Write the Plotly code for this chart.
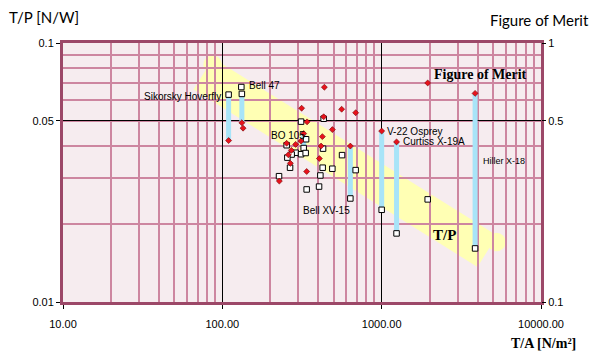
import numpy as np
import plotly.graph_objects as go

# ---------------- data ----------------
# aircraft joined by a bar (same disk loading, T/P and Figure of Merit)
names = ["Sikorsky Hoverfly", "Bell 47", "BO 105", "Bell XV-15",
         "V-22 Osprey", "Curtiss X-19A", "Hiller X-18"]
named_ta = [109.5, 132.6, 324, 636, 1000, 1240, 3858]          # T/A [N/m²]
named_tp = [0.0632, 0.0636, 0.0393, 0.0251, 0.0227, 0.0184, 0.0161]  # T/P [N/W]
named_fom = [0.420, 0.492, 0.447, 0.400, 0.457, 0.415, 0.639]  # Figure of Merit

# other T/P points (squares)
tp_ta = [131.6, 311.9, 335.4, 253.3, 428.7, 288.5, 272.3, 311.9, 333.4, 255.9,
         266.1, 426.3, 490.3, 226.9, 412.3, 338.3, 404.6, 564.1, 432.5, 686.8, 1945]
tp_val = [0.0676, 0.0497, 0.0425, 0.0403, 0.0391, 0.0377, 0.0371, 0.0372, 0.0376, 0.0361,
          0.0330, 0.0330, 0.0327, 0.0306, 0.0308, 0.0272, 0.0279, 0.0369, 0.0510, 0.0323, 0.0249]

# other Figure of Merit points (diamonds)
fom_ta = [134.9, 340.3, 424.4, 490.3, 253.3, 288.5, 311.9, 271.2, 416.5, 259.6,
          406.4, 267.3, 338.3, 227.9, 436.9, 314.6, 560.9, 686.8, 432.5, 1945]
fom_val = [0.469, 0.496, 0.435, 0.463, 0.410, 0.406, 0.418, 0.385, 0.400, 0.370,
           0.358, 0.343, 0.319, 0.293, 0.675, 0.560, 0.555, 0.538, 0.519, 0.701]

x_tickvals = [10, 100, 1000, 10000]
x_ticktext = ["10.00", "100.00", "1000.00", "10000.00"]
y_tickvals = [0.01, 0.05, 0.1]
y_ticktext = ["0.01", "0.05", "0.1"]
y2_tickvals = [0.1, 0.5, 1]
y2_ticktext = ["0.1", "0.5", "1"]

# trend band (T/A, T/P) end points
band_start = (76.0, 0.0760)
band_end = (4600, 0.0157)

# ---------------- styles ----------------
BG = "#F6ECEF"
GRID = "#CD86A0"
FRAME = "#9C4868"
BAR = "#A8E4F8"
BAND = "#FFFFB4"
RED = "#E8121C"

fig = go.Figure()

# bars linking T/P and Figure of Merit (FoM scale = 10 x T/P scale)
bx, by = [], []
for ta, tp, fm in zip(named_ta, named_tp, named_fom):
    bx += [ta, ta, None]
    by += [tp, fm / 10.0, None]
fig.add_trace(go.Scatter(x=bx, y=by, mode="lines", line=dict(color=BAR, width=5),
                         hoverinfo="skip", showlegend=False))

fig.add_trace(go.Scatter(x=named_ta + tp_ta, y=named_tp + tp_val, mode="markers",
                         marker=dict(symbol="square", size=5.5, color="white",
                                     line=dict(color="black", width=1)),
                         showlegend=False))

fig.add_trace(go.Scatter(x=named_ta + fom_ta, y=named_fom + fom_val, mode="markers",
                         yaxis="y2",
                         marker=dict(symbol="diamond", size=4.6, color=RED,
                                     line=dict(color="#700000", width=0.6)),
                         showlegend=False))

# band
fig.add_shape(type="line", xref="x", yref="y", x0=band_start[0], y0=band_start[1],
              x1=band_end[0], y1=band_end[1], line=dict(color=BAND, width=37), layer="below")
for (bxp, byp) in (band_start, band_end):
    fig.add_shape(type="circle", xref="x", yref="y", xsizemode="pixel", ysizemode="pixel",
                  xanchor=bxp, yanchor=byp, x0=-18.5, x1=18.5, y0=-18.5, y1=18.5,
                  fillcolor=BAND, line=dict(width=0), layer="below")

minor_x = [m * 10 ** d for d in (1, 2, 3) for m in range(2, 10)]
minor_y = [m * 0.01 for m in range(2, 10)]

# the page body has an 8 px margin: the figure is sized/offset to compensate
fig.update_layout(
    width=595, height=349,
    margin=dict(l=55, r=62, t=35, b=55),
    paper_bgcolor="white", plot_bgcolor=BG,
    font=dict(family="Liberation Sans, Arial, sans-serif", size=11, color="black"),
    showlegend=False,
    xaxis=dict(type="log", range=[1, 4], tickvals=x_tickvals, ticktext=x_ticktext,
               showgrid=True, gridcolor="black", gridwidth=1,
               minor=dict(tickmode="array", tickvals=minor_x, showgrid=True,
                          gridcolor=GRID, gridwidth=1.5, ticks=""),
               showline=True, linecolor=FRAME, linewidth=3, mirror=True,
               ticks="outside", ticklen=4, tickcolor="black", ticklabelstandoff=6,
               zeroline=False),
    yaxis=dict(type="log", range=[-2, -1], tickvals=y_tickvals, ticktext=y_ticktext,
               showgrid=True, gridcolor="black", gridwidth=1,
               minor=dict(tickmode="array", tickvals=minor_y, showgrid=True,
                          gridcolor=GRID, gridwidth=1.5, ticks=""),
               showline=True, linecolor=FRAME, linewidth=3, mirror=True,
               ticks="outside", ticklen=4, tickcolor="black", zeroline=False),
    yaxis2=dict(type="log", range=[-1, 0], overlaying="y", side="right",
                tickvals=y2_tickvals, ticktext=y2_ticktext, showgrid=False,
                ticks="outside", ticklen=4, tickcolor="black", zeroline=False,
                showline=False),
)

lab_font = dict(family="Liberation Sans, Arial, sans-serif", size=10, color="black")
label_cfg = {
    "Sikorsky Hoverfly": ("tp", "right", -6, -2),
    "Bell 47": ("tp", "left", 5, 8),
    "BO 105": ("fom", "right", 3, -1.5),
    "Bell XV-15": ("tp", "right", 2, -12),
    "V-22 Osprey": ("fom", "left", 3, 0),
    "Curtiss X-19A": ("fom", "left", 4, 0),
    "Hiller X-18": ("mid", "left", 6, 10),
}
for n, ta, tp, fm in zip(names, named_ta, named_tp, named_fom):
    ref, xa, xs, ys = label_cfg[n]
    if ref == "fom":
        yv, yr = np.log10(fm), "y2"
    elif ref == "tp":
        yv, yr = np.log10(tp), "y"
    else:
        yv, yr = np.log10(np.sqrt(tp * fm / 10.0)), "y"
    f = dict(lab_font)
    if n == "Hiller X-18":
        f["size"] = 9
    fig.add_annotation(x=np.log10(ta), y=yv, xref="x", yref=yr, text=n, showarrow=False,
                       xanchor=xa, yanchor="middle", xshift=xs, yshift=ys, font=f)

serif_b = dict(family="Liberation Serif, Times New Roman, serif", size=14, color="black")
# in-plot series labels
fig.add_annotation(x=np.log10(fom_ta[-1]), y=np.log10(fom_val[-1]), xref="x", yref="y2",
                   text="<b>Figure of Merit</b>", showarrow=False, xanchor="left",
                   yanchor="middle", xshift=4, yshift=8, font=serif_b)
fig.add_annotation(x=np.log10(2475), y=np.log10(0.0181), xref="x", yref="y",
                   text="<b>T/P</b>", showarrow=False, xanchor="center", yanchor="middle",
                   font=dict(serif_b, size=15))

# axis titles
title_font = dict(family="Lato, Noto Sans, sans-serif", size=15, color="black")
fig.add_annotation(x=0, y=1, xref="paper", yref="paper", text="T/P [N/W]", showarrow=False,
                   xanchor="left", yanchor="middle", xshift=-56, yshift=26, font=title_font)
fig.add_annotation(x=1, y=1, xref="paper", yref="paper", text="Figure of Merit",
                   showarrow=False, xanchor="right", yanchor="middle", xshift=50, yshift=23,
                   font=title_font)
fig.add_annotation(x=1, y=0, xref="paper", yref="paper", text="<b>T/A [N/m²]</b>",
                   showarrow=False, xanchor="right", yanchor="middle", xshift=37, yshift=-41,
                   font=dict(family="Liberation Serif, Times New Roman, serif", size=14,
                             color="black"))

fig.write_html("out.html")
